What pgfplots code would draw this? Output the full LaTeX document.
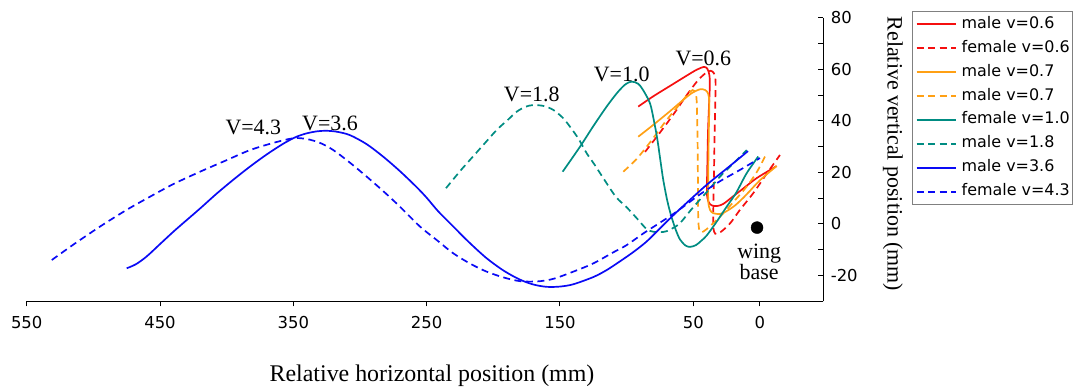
\documentclass[border=0pt]{standalone}
\usepackage{fontspec}
\setmainfont{Liberation Serif}
\newfontfamily\verd{DejaVu Sans}
\usepackage{pgfplots}
\pgfplotsset{compat=1.18}
\definecolor{cred}{RGB}{245,15,15}
\definecolor{corange}{RGB}{255,160,20}
\definecolor{cteal}{RGB}{0,140,130}
\definecolor{cblue}{RGB}{10,10,245}
\newcommand\tickfont{\verd\fontsize{16.5}{18}\selectfont}
\newcommand\legfont{\verd\fontsize{16}{18}\selectfont}
\newcommand\labfont{\fontsize{22}{26}\selectfont}
\newcommand\xlabfont{\fontsize{24}{28}\selectfont}
\begin{document}
\begin{tikzpicture}
\begin{axis}[
  at={(0,0)}, anchor=south west,
  scale only axis, width=796.6bp, height=283.25bp,
  xmin=-47.5, xmax=550, ymin=-30, ymax=80,
  x dir=reverse,
  axis x line*=bottom, axis y line*=right,
  xtick={0,50,150,250,350,450,550},
  xticklabels={0,50,150,250,350,450,550},
  ytick={-20,0,20,40,60,80},
  yticklabels={-20,0,20,40,60,80},
  minor ytick={-10,10,30,50,70},
  xtick align=outside, ytick align=inside,
  major tick length=5bp, minor tick length=5bp,
  tick style={black, line width=1bp},
  axis line style={black, line width=1.3bp},
  ticklabel style={font=\tickfont},
  xticklabel shift=7bp, yticklabel shift=4bp,
  clip=false,
  curve/.style={line width=1.7bp, smooth, tension=0.5},
  dsh/.style={dash pattern=on 7bp off 4.5bp},
  legend style={at={(axis description cs:1.1117,1.0237)}, anchor=north west,
    draw=gray, line width=0.8bp, fill=white, font=\legfont,
    inner xsep=3bp, inner ysep=5.3bp, row sep=8.86bp, column sep=5bp,
    nodes={inner sep=0bp, text height=11.5bp, text depth=3.5bp},
    cells={anchor=west}},
  legend image code/.code={\draw[#1, line width=2bp] (0bp,0bp) -- (39bp,0bp);},
]
% male v=0.6
\addplot[curve, draw=cred, color=cred] coordinates {(91.3,45.6) (80,49.6) (67.5,53.6) (55,57.6) (47.5,59.9) (42,61) (39.5,60.3) (38,58) (37.6,54) (38.3,45) (39,35) (39.5,22) (39.8,12) (38.5,8.5) (36,7.2) (32,7) (27.5,7.8) (20,10.8) (12,14) (2.5,17.8) (-12.5,22.5)};
\addlegendentry{male v=0.6}
% female v=0.6
\addplot[curve, dsh, draw=cred, color=cred] coordinates {(86.2,28) (75,35.5) (65,42.5) (55,50) (47,55.5) (41,58.5) (37,59.5) (34.5,58.5) (33.3,55.5) (33.5,48) (34,35) (34.5,20) (35,5) (35,-1.5) (33.5,-3.8) (31,-3.6) (27.5,-2.3) (22,0.5) (15,5.5) (5,12) (-5,19.5) (-15,26.8)};
\addlegendentry{female v=0.6}
% male v=0.7
\addplot[curve, draw=corange, color=corange] coordinates {(91.3,33.9) (80,38.5) (67.5,43.8) (58,48) (51.2,50.8) (45,52.3) (41,52) (38.8,50.5) (38,47) (38.3,38) (38.6,28) (38.8,18) (38.8,9) (37.5,5.5) (35,4.2) (30,3.9) (25,5) (18,7.5) (10,11.5) (0,17) (-12.5,22.5)};
\addlegendentry{male v=0.7}
% male v=0.7 (dashed)
\addplot[curve, dsh, draw=corange, color=corange] coordinates {(102.5,20.3) (93,25) (85,30) (77,35.5) (70,40.4) (61,46) (54,50.5) (50.5,52) (48.5,51) (47.5,48) (47,38) (46.7,28) (46.5,14) (46.3,2) (45.5,-2.3) (43.8,-3.2) (40,-2) (30,2.8) (20,8.5) (10,14.5) (2,20.5) (-5,27.5)};
\addlegendentry{male v=0.7}
% female v=1.0
\addplot[curve, draw=cteal, color=cteal] coordinates {(148,20.3) (135,30) (125,38) (115,45.6) (107,51) (101,54.2) (96.3,55.3) (91.5,54.5) (88,52.3) (82.5,46.9) (79.5,40) (77,33) (74.5,24) (72.5,17) (69.5,9) (66.5,3) (63,-2.5) (60,-6) (56,-8.3) (52.5,-8.9) (48,-8.2) (44,-6.5) (40,-4.5) (33,0.5) (25,6.7) (18,12) (10,19.7) (1.3,26.2)};
\addlegendentry{female v=1.0}
% male v=1.8
\addplot[curve, dsh, draw=cteal, color=cteal] coordinates {(235.5,13.9) (225,20.5) (217.5,24.9) (207,31) (197.5,36.5) (189,40.5) (182.5,43.6) (176,45.5) (170,46.2) (162,45.8) (155,44.3) (148,41.3) (142.5,37.8) (136,33) (130,27.5) (124,23) (117.5,17.8) (108,10.5) (100,6.5) (92,2) (85,-2) (80,-3) (75,-3.2) (70,-2.8) (65,-1.5) (60,0.3) (52.5,5) (45,9.5) (38,13.5) (30,18.4) (20,23.5) (10,28.7)};
\addlegendentry{male v=1.8}
% male v=3.6
\addplot[curve, draw=cblue, color=cblue] coordinates {(475,-17.2) (468,-15.6) (460,-12.6) (450,-7.8) (440,-3) (432.5,0.4) (420,6) (407.5,11.8) (395,17.2) (382.5,22.3) (370,27) (357.5,31.2) (348,33.8) (340,35.2) (332,36) (325,36.2) (317,35.8) (307.5,34.5) (295,31) (282.5,26.1) (270,20.5) (257.5,14.3) (250,10.2) (241.3,4.9) (230,-1) (218,-7.2) (205,-13.3) (192,-18.2) (180,-21.6) (170,-23.5) (160,-24.4) (150,-24.3) (140,-23.4) (125,-20.6) (115,-17.9) (105,-14.5) (95,-10.9) (85,-6.8) (75,-1.7) (65,3.4) (55,8.2) (40,15.2) (25,21.5) (12.5,26.8) (9,28.3)};
\addlegendentry{male v=3.6}
% female v=4.3
\addplot[curve, dsh, draw=cblue, color=cblue] coordinates {(531.2,-14) (515,-8) (495,-1) (475,5.5) (457.5,10.6) (440,15.5) (420,20.3) (400,24.8) (382.5,28.7) (365,31.5) (350,33.3) (340,33) (330,31.5) (320,28.7) (308,24) (295,18.4) (282,12.5) (270,6.7) (255,-1) (242.5,-6.2) (230,-11.4) (217,-15.5) (205,-18.5) (192,-20.8) (180,-22.2) (167,-22.3) (155,-21.3) (140,-18.5) (125,-15.3) (110,-11) (100,-8.2) (87,-3.5) (75,0.5) (65,3.9) (57.5,6.7) (45,11.5) (30,16.6) (15,21) (0,25.6)};
\addlegendentry{female v=4.3}
% wing base
\addplot[only marks, mark=*, mark size=6bp, black, forget plot] coordinates {(2.2,-1.4)};
\node[font=\labfont, anchor=base] at (axis cs:380,34.6) {V=4.3};
\node[font=\labfont, anchor=base] at (axis cs:322.5,36.5) {V=3.6};
\node[font=\labfont, anchor=base] at (axis cs:171.2,47.5) {V=1.8};
\node[font=\labfont, anchor=base] at (axis cs:103.7,55.3) {V=1.0};
\node[font=\labfont, anchor=base] at (axis cs:42.5,61.7) {V=0.6};
\node[font=\labfont, anchor=base] at (axis cs:0.6,-13.3) {wing};
\node[font=\labfont, anchor=base] at (axis cs:0.6,-21.7) {base};
\end{axis}
\node[font=\xlabfont, anchor=base] at (405.3bp,-79.75bp) {Relative horizontal position (mm)};
\node[font=\labfont, rotate=-90, anchor=center] at (866.3bp,147.25bp) {Relative vertical position (mm)};
\pgfresetboundingbox
\path (-26.7bp,-87.75bp) rectangle (1047.3bp,301.25bp);
\end{tikzpicture}
\end{document}
